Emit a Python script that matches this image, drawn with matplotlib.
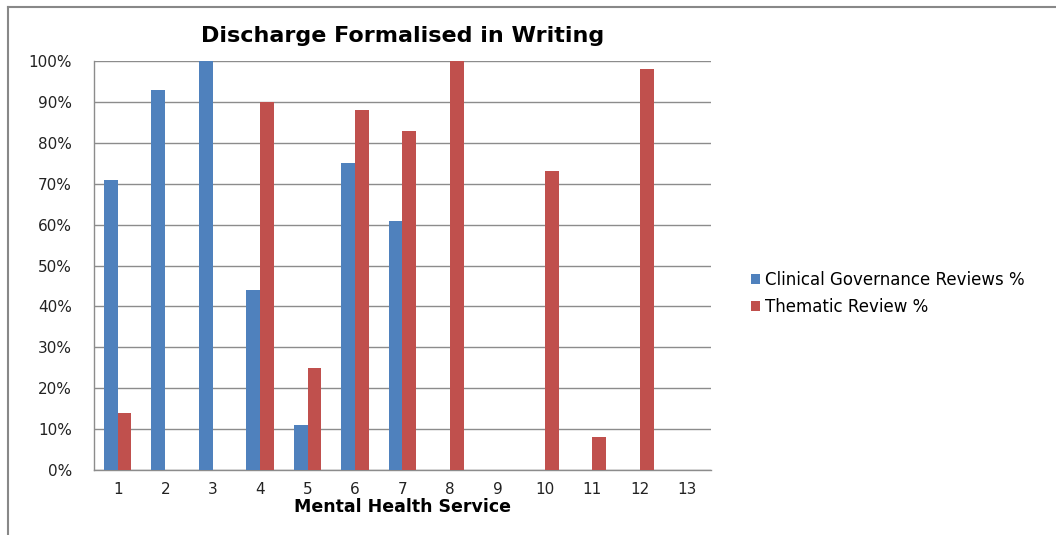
import matplotlib.pyplot as plt
import matplotlib.ticker as tck
from matplotlib.lines import Line2D
import numpy as np

plt.rcParams['font.family'] = ['DejaVu Sans']

services = [str(i) for i in range(1, 14)]
clinical = [71, 93, 100, 44, 11, 75, 61, 0, 0, 0, 0, 0, 0]
thematic = [14, 0, 0, 90, 25, 88, 83, 100, 0, 73, 8, 98, 0]

blue = '#4F81BD'
red = '#C0504D'
grid_col = '#8C8C8C'

fig = plt.figure(figsize=(10.56, 5.35), dpi=100)
ax = fig.add_axes([94/1056, 1-470/535, (711-94)/1056, (470-61)/535])

x = np.arange(1, len(services)+1)
w = 0.29
ax.bar(x - w/2, clinical, w, color=blue, label='Clinical Governance Reviews %', zorder=3)
ax.bar(x + w/2, thematic, w, color=red, label='Thematic Review %', zorder=3)

ax.set_xlim(0.5, 13.5)
ax.set_ylim(0, 100)
ax.set_xticks(x)
ax.set_xticklabels(services)
ax.yaxis.set_major_locator(tck.MultipleLocator(10))
ax.yaxis.set_major_formatter(tck.FuncFormatter(lambda v, p: '%d%%' % v))
ax.tick_params(axis='both', length=0, labelsize=11, colors='#222222')
ax.tick_params(axis='y', pad=16)
ax.tick_params(axis='x', pad=9)
ax.grid(axis='y', color=grid_col, linewidth=1, zorder=0)
for s in ['top', 'right']:
    ax.spines[s].set_visible(False)
for s in ['left', 'bottom']:
    ax.spines[s].set_color(grid_col)
    ax.spines[s].set_linewidth(1)

ax.set_title('Discharge Formalised in Writing', fontsize=16, fontweight='bold', pad=14)
ax.set_xlabel('Mental Health Service', fontsize=12.5, fontweight='bold', labelpad=0)

fig.legend(loc='upper left', bbox_to_anchor=(736/1056, 1-256/535), frameon=False,
           fontsize=12, handlelength=0.55, handleheight=0.55, handletextpad=0.3,
           labelspacing=0.55)

# outer frame of the chart box
fig.add_artist(Line2D([8/1056, 1], [1-7/535, 1-7/535], color='#888888', lw=1.5))
fig.add_artist(Line2D([8/1056, 8/1056], [0, 1-7/535], color='#888888', lw=1.5))

fig.savefig('out.png', dpi=100)
